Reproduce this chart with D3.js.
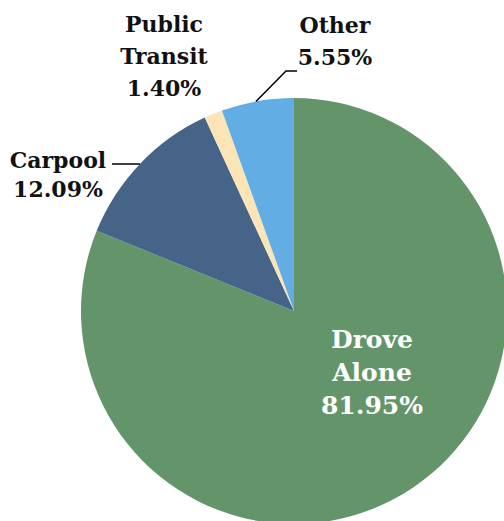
<!DOCTYPE html>
<html>
<head>
<meta charset="utf-8">
<script src="https://cdn.jsdelivr.net/npm/d3@7"></script>
<style>
  html, body { margin: 0; padding: 0; background: #fff; }
  svg { display: block; }
  text { font-family: "DejaVu Serif", "Liberation Serif", serif; font-weight: bold; }
</style>
</head>
<body>
<svg id="chart" width="504" height="521"></svg>
<script>
// Commute mode shares
const categories = ["Drove Alone", "Carpool", "Public Transit", "Other"];
const values = [81.95, 12.09, 1.40, 5.55];
const colors = ["#64956a", "#466388", "#fbe5b6", "#62aee4"];

const svg = d3.select("#chart");
const cx = 294, cy = 311, radius = 213;

const pie = d3.pie().sort(null).value(d => d.value);
const arc = d3.arc().innerRadius(0).outerRadius(radius);
const data = categories.map((c, i) => ({ name: c, value: values[i], color: colors[i] }));
const arcs = pie(data);

const g = svg.append("g").attr("transform", `translate(${cx},${cy})`);
g.selectAll("path.slice")
  .data(arcs)
  .enter().append("path")
  .attr("class", "slice")
  .attr("d", arc)
  .attr("fill", d => d.data.color);

const fmt = v => v.toFixed(2) + "%";

// Point on the rim at a fraction along a slice (0 = start, 1 = end)
function rimPoint(a, t) {
  const ang = a.startAngle + (a.endAngle - a.startAngle) * t;
  return [cx + radius * Math.sin(ang), cy - radius * Math.cos(ang)];
}

// Label settings: text lines, anchor position, line height, colour
const labelLayout = [
  { lines: ["Drove", "Alone"], x: 372, y: 348, fill: "#ffffff", size: 25, lh: 33 },
  { lines: ["Carpool"], x: 58, y: 168, fill: "#111111", size: 22, lh: 29 },
  { lines: ["Public", "Transit"], x: 164, y: 32, fill: "#111111", size: 22, lh: 32 },
  { lines: ["Other"], x: 335, y: 33, fill: "#111111", size: 22, lh: 32 }
];

arcs.forEach((a, i) => {
  const L = labelLayout[i];
  const t = svg.append("text")
    .attr("text-anchor", "middle")
    .attr("fill", L.fill)
    .style("font-size", L.size + "px");
  const all = L.lines.concat([fmt(a.data.value)]);
  all.forEach((s, k) => {
    t.append("tspan").attr("x", L.x).attr("y", L.y + k * L.lh).text(s);
  });
});

// Leader lines
const leader = svg.append("g").attr("fill", "none").attr("stroke", "#000").attr("stroke-width", 1.5);
// Carpool
{
  const p = rimPoint(arcs[1], 0.5);
  leader.append("polyline")
    .attr("points", [[112, 164], [136, 164], p].map(q => q.join(",")).join(" "));
}
// Other
{
  const p = rimPoint(arcs[3], 0.48);
  leader.append("polyline")
    .attr("points", [[297, 71], [286, 71], p].map(q => q.join(",")).join(" "));
}
</script>
</body>
</html>
